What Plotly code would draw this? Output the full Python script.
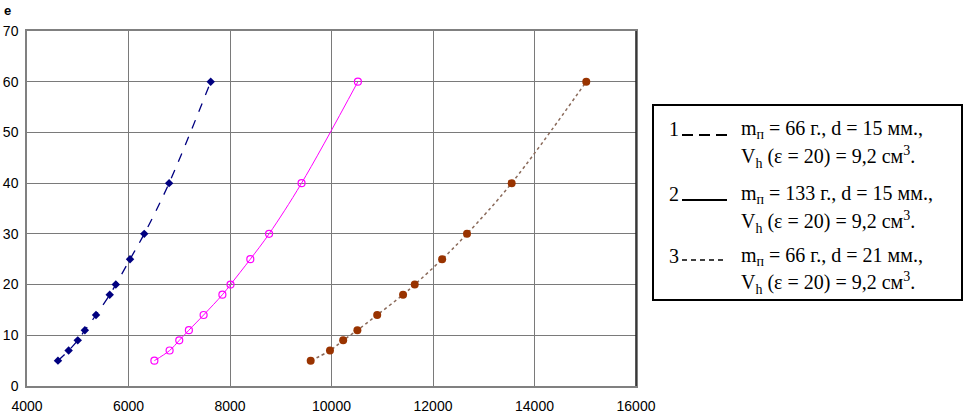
import plotly.graph_objects as go

# ---- data ----
y_vals = [5, 7, 9, 11, 14, 18, 20, 25, 30, 40, 60]
x_series1 = [4610, 4820, 5000, 5140, 5360, 5630, 5750, 6030, 6310, 6800, 7620]
x_series2 = [6510, 6810, 7000, 7190, 7480, 7850, 8010, 8400, 8770, 9410, 10520]
x_series3 = [9590, 9970, 10230, 10510, 10900, 11410, 11640, 12180, 12670, 13550, 15020]
x_ticks = [4000, 6000, 8000, 10000, 12000, 14000, 16000]
y_ticks = [0, 10, 20, 30, 40, 50, 60, 70]

legend_rows = [
    ("1", "m<sub>п</sub> = 66 г., d = 15 мм.,", "V<sub>h</sub> (ε = 20) = 9,2 см<sup>3</sup>.", "dash"),
    ("2", "m<sub>п</sub> = 133 г., d = 15 мм.,", "V<sub>h</sub> (ε = 20) = 9,2 см<sup>3</sup>.", "solid"),
    ("3", "m<sub>п</sub> = 66 г., d = 21 мм.,", "V<sub>h</sub> (ε = 20) = 9,2 см<sup>3</sup>.", "dot"),
]

W, H = 965, 413
L, R, T, B = 27, 636, 31, 386


def px(xp):
    return (xp - L) / (R - L)


def py(yp):
    return (B - yp) / (B - T)


fig = go.Figure()
fig.add_trace(go.Scatter(
    x=x_series1, y=y_vals, mode="lines+markers", line_shape="spline",
    line=dict(color="#000080", width=1.3, dash="dash"),
    marker=dict(symbol="diamond", size=6.5, color="#000080"),
))
fig.add_trace(go.Scatter(
    x=x_series2, y=y_vals, mode="lines+markers", line_shape="spline",
    line=dict(color="#FF00FF", width=1),
    marker=dict(symbol="circle-open", size=7, color="#FF00FF", line=dict(width=1.2)),
))
fig.add_trace(go.Scatter(
    x=x_series3, y=y_vals, mode="lines+markers", line_shape="spline",
    line=dict(color="#8a6a5a", width=1.5, dash="dot"),
    marker=dict(symbol="circle", size=8, color="#993300"),
))

axis_common = dict(
    showgrid=True, gridcolor="#7a7a7a", gridwidth=1,
    showline=True, linecolor="#808080", linewidth=1.5, mirror=True,
    zeroline=False, automargin=False, tickcolor="rgba(0,0,0,0)",
    tickfont=dict(family="Arial, Liberation Sans", size=14, color="black"),
)
fig.update_xaxes(range=[4000, 16000], tickvals=x_ticks, ticktext=[str(v) for v in x_ticks],
                 ticks="outside", ticklen=6, **axis_common)
fig.update_yaxes(range=[0, 70], tickvals=y_ticks, ticktext=[str(v) for v in y_ticks],
                 ticks="outside", ticklen=4, **axis_common)

# right border darker
fig.add_shape(type="line", xref="paper", yref="paper", x0=1, x1=1, y0=0, y1=1,
              line=dict(color="#202020", width=1.5))

# "e" label
fig.add_annotation(xref="paper", yref="paper", x=px(2), y=py(1), xanchor="left", yanchor="top",
                   text="<b>e</b>", showarrow=False,
                   font=dict(family="Arial, Liberation Sans", size=13, color="black"))

# legend box
fig.add_shape(type="rect", xref="paper", yref="paper", x0=px(653), x1=px(962), y0=py(105), y1=py(300),
              line=dict(color="black", width=2), fillcolor="rgba(0,0,0,0)")

serif = dict(family="Liberation Serif, Times New Roman, serif", size=20, color="black")
row_centers = [(129, 157), (194, 222), (256, 283)]
for (num, t1, t2, dash), (c1, c2) in zip(legend_rows, row_centers):
    fig.add_annotation(xref="paper", yref="paper", x=px(667), y=py(c1), xanchor="left", yanchor="middle",
                       text=num, showarrow=False, font=serif)
    fig.add_annotation(xref="paper", yref="paper", x=px(739), y=py(c1), xanchor="left", yanchor="middle",
                       text=t1, showarrow=False, font=serif)
    fig.add_annotation(xref="paper", yref="paper", x=px(739), y=py(c2), xanchor="left", yanchor="middle",
                       text=t2, showarrow=False, font=serif)
    ly = c1 + 6
    if dash == "dash":
        for s in [682, 699, 716]:
            fig.add_shape(type="line", xref="paper", yref="paper", x0=px(s), x1=px(s + 11), y0=py(ly), y1=py(ly),
                          line=dict(color="black", width=2))
    elif dash == "solid":
        fig.add_shape(type="line", xref="paper", yref="paper", x0=px(682), x1=px(727), y0=py(ly), y1=py(ly),
                      line=dict(color="black", width=2))
    else:
        for s in [682, 691, 700, 709, 718]:
            fig.add_shape(type="line", xref="paper", yref="paper", x0=px(s), x1=px(s + 5), y0=py(ly - 2), y1=py(ly - 2),
                          line=dict(color="black", width=1.5))

fig.update_layout(
    width=W, height=H, showlegend=False,
    margin=dict(l=L, r=W - R, t=T, b=H - B),
    plot_bgcolor="white", paper_bgcolor="white",
)

fig.write_html(
    "out.html",
    config={"displayModeBar": False},
    post_script="document.body.style.margin='0';document.body.style.overflow='hidden';",
)
